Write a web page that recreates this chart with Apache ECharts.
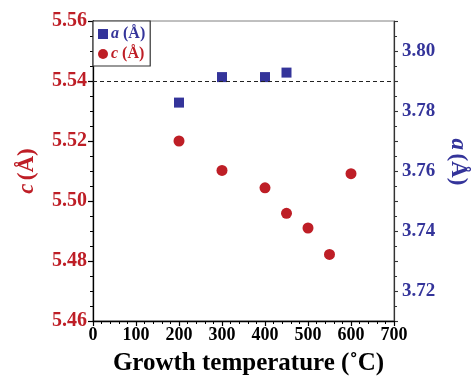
<!DOCTYPE html>
<html>
<head>
<meta charset="utf-8">
<script src="https://cdn.jsdelivr.net/npm/echarts@6/dist/echarts.min.js"></script>
<style>html,body{margin:0;padding:0;background:#fff}#c{width:471px;height:379px}</style>
</head>
<body>
<div id="c"></div>
<script>
var aTemps = [200, 300, 400, 450];
var aValues = [3.7828, 3.7913, 3.7913, 3.7928];
var cTemps = [200, 300, 400, 450, 500, 550, 600];
var cValues = [5.5200, 5.5102, 5.5044, 5.4959, 5.4910, 5.4822, 5.5091];
var refLineC = 5.5394;
var xTicks = [0, 100, 200, 300, 400, 500, 600, 700];
var cTicks = [5.46, 5.48, 5.50, 5.52, 5.54, 5.56];
var aTickLabels = [3.72, 3.74, 3.76, 3.78, 3.80];

var RED = '#be1e26', BLUE = '#34349a';
var FONT = 'Liberation Serif';
var chart = echarts.init(document.getElementById('c'), null, {renderer: 'canvas'});
function pairs(xs, ys) { return xs.map(function (x, i) { return [x, ys[i]]; }); }

chart.setOption({
  animation: false,
  grid: {left: 93, right: 77, top: 21, bottom: 58, show: true, borderColor: '#808080', borderWidth: 1,
    containLabel: false, outerBoundsMode: 'none'},
  legend: {
    orient: 'vertical', left: 93, top: 21, padding: [5, 5, 4, 5], itemGap: 4,
    itemWidth: 10, itemHeight: 10, borderColor: '#333', borderWidth: 1.2, backgroundColor: '#fff',
    data: [{name: 'a', icon: 'rect'}, {name: 'c', icon: 'circle'}],
    formatter: function (n) { return n === 'a' ? '{ai|a} {an|(Å)}' : '{ci|c} {cn|(Å)}'; },
    textStyle: {
      fontFamily: FONT, fontSize: 16, fontWeight: 'bold', padding: [0, 0, 0, -2],
      rich: {
        ai: {fontFamily: FONT, fontSize: 16, fontWeight: 'bold', fontStyle: 'italic', color: BLUE},
        an: {fontFamily: FONT, fontSize: 16, fontWeight: 'bold', color: BLUE},
        ci: {fontFamily: FONT, fontSize: 16, fontWeight: 'bold', fontStyle: 'italic', color: RED},
        cn: {fontFamily: FONT, fontSize: 16, fontWeight: 'bold', color: RED}
      }
    }
  },
  xAxis: {
    type: 'value', min: xTicks[0], max: xTicks[xTicks.length - 1], interval: 100,
    name: 'Growth temperature (˚C)', nameLocation: 'middle', nameGap: 30,
    nameTextStyle: {fontFamily: FONT, fontSize: 25, fontWeight: 'bold', color: '#000', padding: [0, 0, 0, 10]},
    axisLine: {onZero: false, lineStyle: {color: '#000', width: 1.3}},
    axisTick: {show: true, inside: false, length: 5, lineStyle: {color: '#000', width: 1.2}},
    minorTick: {show: true, splitNumber: 5, length: 3, lineStyle: {color: '#000', width: 1}},
    splitLine: {show: false},
    axisLabel: {fontFamily: FONT, fontSize: 18, fontWeight: 'bold', color: '#000', margin: 5}
  },
  yAxis: [{
    type: 'value', position: 'left', min: cTicks[0], max: cTicks[cTicks.length - 1], interval: 0.02,
    name: '{i|c} {n|(Å)}', nameLocation: 'middle', nameGap: 54,
    nameTextStyle: {rich: {
      i: {fontFamily: FONT, fontSize: 23, fontWeight: 'bold', fontStyle: 'italic', color: RED},
      n: {fontFamily: FONT, fontSize: 23, fontWeight: 'bold', color: RED}
    }},
    axisLine: {show: true, onZero: false, lineStyle: {color: '#000', width: 1.3}},
    axisTick: {show: true, inside: false, length: 5, lineStyle: {color: '#000', width: 1.2}},
    minorTick: {show: true, splitNumber: 4, length: 3, lineStyle: {color: '#000', width: 1}},
    splitLine: {show: false},
    axisLabel: {fontFamily: FONT, fontSize: 20, fontWeight: 'bold', color: RED, margin: 6,
      formatter: function (v) { return v.toFixed(2); }}
  }, {
    type: 'value', position: 'right', min: 3.71, max: 3.81, interval: 0.01,
    name: '{i|a} {n|(Å)}', nameLocation: 'middle', nameGap: 52, nameRotate: -90,
    nameTextStyle: {padding: [0, 18, 0, 0], rich: {
      i: {fontFamily: FONT, fontSize: 23, fontWeight: 'bold', fontStyle: 'italic', color: BLUE},
      n: {fontFamily: FONT, fontSize: 23, fontWeight: 'bold', color: BLUE}
    }},
    axisLine: {show: true, onZero: false, lineStyle: {color: '#333', width: 1.2}},
    axisTick: {show: true, inside: false, length: 4, lineStyle: {color: '#333', width: 1.1}},
    minorTick: {show: true, splitNumber: 2, length: 3, lineStyle: {color: '#333', width: 1}},
    splitLine: {show: false},
    axisLabel: {fontFamily: FONT, fontSize: 19, fontWeight: 'bold', color: BLUE, margin: 8,
      formatter: function (v) {
        for (var k = 0; k < aTickLabels.length; k++) {
          if (Math.abs(v - aTickLabels[k]) < 1e-6) return aTickLabels[k].toFixed(2);
        }
        return '';
      }}
  }],
  series: [{
    name: 'a', type: 'scatter', yAxisIndex: 1, symbol: 'rect', symbolSize: 10,
    itemStyle: {color: BLUE, opacity: 1}, data: pairs(aTemps, aValues), z: 3
  }, {
    name: 'c', type: 'scatter', yAxisIndex: 0, symbol: 'circle', symbolSize: 11,
    itemStyle: {color: RED, opacity: 1}, data: pairs(cTemps, cValues), z: 3,
    markLine: {
      silent: true, symbol: 'none', label: {show: false},
      lineStyle: {color: '#222', type: [4, 3], width: 1},
      data: [{yAxis: refLineC}]
    }
  }]
});
</script>
</body>
</html>
